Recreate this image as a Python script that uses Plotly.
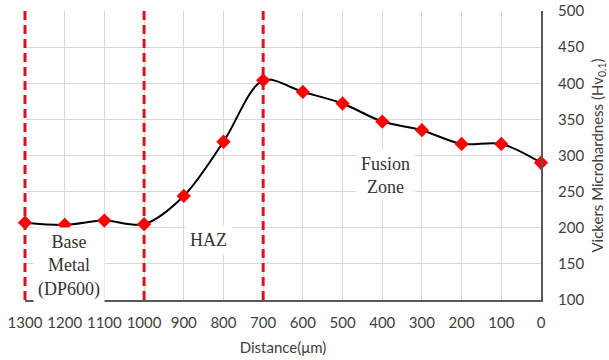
import plotly.graph_objects as go

distance = [1300, 1200, 1100, 1000, 900, 800, 700, 600, 500, 400, 300, 200, 100, 0]
hardness = [207, 204, 210, 205, 244, 319, 404, 388, 372, 347, 335, 316, 316, 290]
zone_boundaries = [1300, 1000, 700]
zone_labels = ["Base<br>Metal<br>(DP600)", "HAZ", "Fusion<br>Zone"]
zone_label_x = [1188, 838, 393]
zone_label_y = [147, 183, 272]
x_ticks = list(range(0, 1301, 100))
y_ticks = list(range(100, 501, 50))
x_range = [1300, 0]

fig = go.Figure()

for xb in zone_boundaries:
    xp = (x_range[0] - xb) / (x_range[0] - x_range[1])
    fig.add_shape(type="line", x0=xp, x1=xp, y0=0, y1=1, xref="paper", yref="paper",
                  line=dict(color="#d8141f", width=3, dash="9px,5px"), layer="above")

fig.add_trace(go.Scatter(
    x=distance, y=hardness, mode="lines+markers",
    line=dict(shape="spline", smoothing=0.9, color="black", width=2),
    marker=dict(symbol="diamond", size=11, color="#ff0000"),
    cliponaxis=False, showlegend=False))

for t, xa, ya in zip(zone_labels, zone_label_x, zone_label_y):
    fig.add_annotation(x=xa, y=ya, text=t, showarrow=False, bgcolor="white",
                       font=dict(family="Liberation Serif", size=18, color="#333333"),
                       borderpad=4)

fig.update_layout(
    width=609, height=360,
    margin=dict(l=25, r=68, t=11, b=60),
    plot_bgcolor="white", paper_bgcolor="white",
    font=dict(family="Lato", size=15, color="#404040"),
    xaxis=dict(range=x_range, tickvals=x_ticks, showgrid=True, gridcolor="#d9d9d9",
               showline=True, linecolor="#595959", linewidth=2, zeroline=False,
               ticks="", ticklen=0, ticklabelstandoff=8, automargin=False,
               title=dict(text="Distance(μm)", font=dict(size=15), standoff=12)),
    yaxis=dict(range=[100, 500], tickvals=y_ticks, side="right", showgrid=True,
               gridcolor="#d9d9d9", showline=True, linecolor="#595959", linewidth=2,
               zeroline=False, ticks="", ticklabelstandoff=12, automargin=False,
               title=dict(text="Vickers Microhardness (Hv<sub>0.1</sub>)", font=dict(size=15), standoff=9)),
)

fig.write_html("out.html")
